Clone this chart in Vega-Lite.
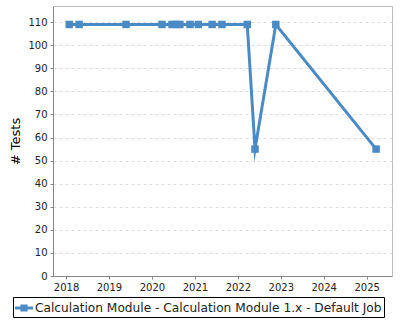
{
  "$schema": "https://vega.github.io/schema/vega-lite/v6.json",
  "autosize": "none",
  "width": 339,
  "height": 270,
  "padding": {"left": 53, "top": 6, "right": 8, "bottom": 44},
  "background": "white",
  "config": {
    "font": "DejaVu Sans",
    "view": {"stroke": "#bbbbbb", "strokeWidth": 1}
  },
  "data": {
    "values": [
      {"date": "2018-01-28", "tests": 109, "job": "Calculation Module - Calculation Module 1.x - Default Job"},
      {"date": "2018-04-22", "tests": 109, "job": "Calculation Module - Calculation Module 1.x - Default Job"},
      {"date": "2019-05-26", "tests": 109, "job": "Calculation Module - Calculation Module 1.x - Default Job"},
      {"date": "2020-03-27", "tests": 109, "job": "Calculation Module - Calculation Module 1.x - Default Job"},
      {"date": "2020-06-20", "tests": 109, "job": "Calculation Module - Calculation Module 1.x - Default Job"},
      {"date": "2020-07-23", "tests": 109, "job": "Calculation Module - Calculation Module 1.x - Default Job"},
      {"date": "2020-08-26", "tests": 109, "job": "Calculation Module - Calculation Module 1.x - Default Job"},
      {"date": "2020-11-20", "tests": 109, "job": "Calculation Module - Calculation Module 1.x - Default Job"},
      {"date": "2021-01-30", "tests": 109, "job": "Calculation Module - Calculation Module 1.x - Default Job"},
      {"date": "2021-05-27", "tests": 109, "job": "Calculation Module - Calculation Module 1.x - Default Job"},
      {"date": "2021-08-19", "tests": 109, "job": "Calculation Module - Calculation Module 1.x - Default Job"},
      {"date": "2022-03-22", "tests": 109, "job": "Calculation Module - Calculation Module 1.x - Default Job"},
      {"date": "2022-05-27", "tests": 55, "job": "Calculation Module - Calculation Module 1.x - Default Job"},
      {"date": "2022-11-20", "tests": 109, "job": "Calculation Module - Calculation Module 1.x - Default Job"},
      {"date": "2025-03-22", "tests": 55, "job": "Calculation Module - Calculation Module 1.x - Default Job"}
    ]
  },
  "encoding": {
    "x": {
      "field": "date",
      "type": "temporal",
      "scale": {"domain": ["2017-09-12", "2025-08-04"]},
      "axis": {
        "title": null,
        "format": "%Y",
        "tickCount": {"interval": "year", "step": 1},
        "grid": false,
        "domainColor": "#888888",
        "tickColor": "#888888",
        "tickSize": 3,
        "labelFontSize": 10,
        "labelColor": "#222222",
        "labelPadding": 3
      }
    },
    "y": {
      "field": "tests",
      "type": "quantitative",
      "scale": {"domain": [0, 117], "nice": false},
      "axis": {
        "title": "# Tests",
        "titleFontSize": 13,
        "titleFontWeight": "normal",
        "titleColor": "#000000",
        "titlePadding": 5,
        "values": [0, 10, 20, 30, 40, 50, 60, 70, 80, 90, 100, 110],
        "grid": true,
        "gridColor": "#dddddd",
        "gridDash": [3, 3],
        "domainColor": "#888888",
        "tickColor": "#888888",
        "tickSize": 3,
        "labelFontSize": 10,
        "labelColor": "#222222",
        "labelPadding": 3
      }
    },
    "color": {
      "field": "job",
      "type": "nominal",
      "scale": {"range": ["#4a8bc6"]},
      "legend": {
        "title": null,
        "orient": "none",
        "legendX": -40,
        "legendY": 291,
        "strokeColor": "#000000",
        "padding": 2,
        "labelFontSize": 12.2,
        "labelColor": "#222222",
        "labelLimit": 400,
        "symbolType": "M-1,-0.17H1V0.17H-1Z M-0.4,-0.4H0.4V0.4H-0.4Z",
        "symbolSize": 324,
        "symbolStrokeWidth": 0,
        "symbolFillColor": "#4a8bc6",
        "symbolOpacity": 1,
        "labelOffset": 2
      }
    }
  },
  "layer": [
    {"mark": {"type": "line", "strokeWidth": 3, "strokeJoin": "miter", "strokeMiterLimit": 10}},
    {"mark": {"type": "square", "size": 56, "opacity": 1, "filled": true}}
  ]
}
